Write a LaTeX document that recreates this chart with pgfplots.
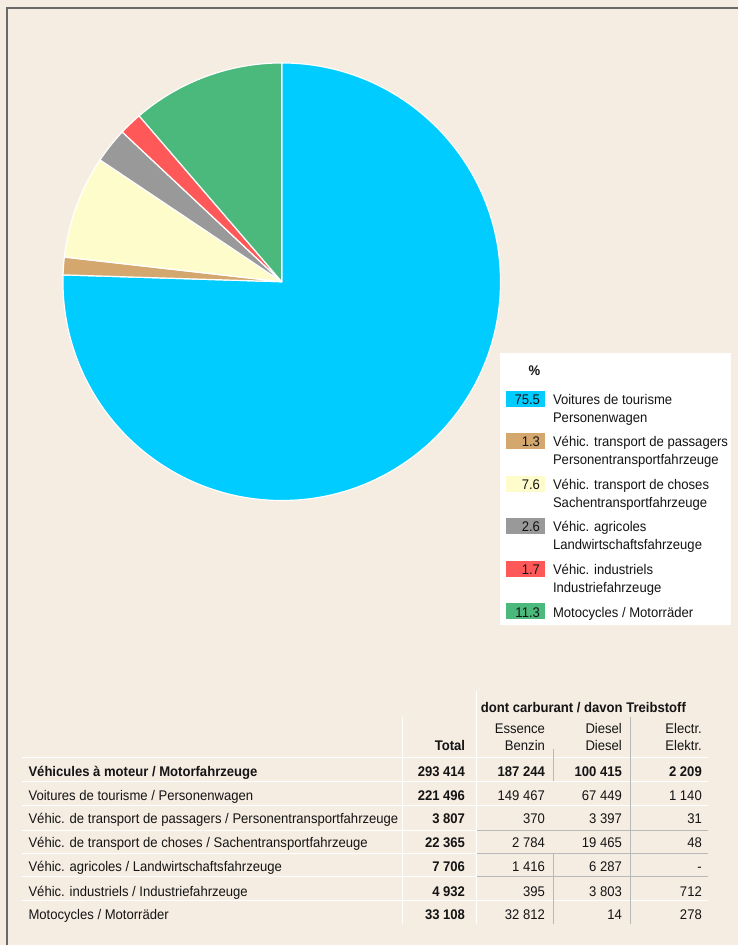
\documentclass[border=0pt]{standalone}
\usepackage{fontspec}
\setmainfont{Liberation Sans}[FakeStretch=0.935]
\usepackage{pgfplots}
\usepackage{pgfplotstable}
\pgfplotsset{compat=1.18}

\definecolor{bgbeige}{RGB}{245,236,226}
\definecolor{framegrey}{RGB}{105,105,105}
\definecolor{txt}{RGB}{20,20,20}
\definecolor{cBlue}{RGB}{0,204,255}
\definecolor{cBrown}{RGB}{212,167,111}
\definecolor{cYellow}{RGB}{255,252,204}
\definecolor{cGrey}{RGB}{153,153,153}
\definecolor{cRed}{RGB}{255,88,88}
\definecolor{cGreen}{RGB}{75,185,124}
\definecolor{gridgrey}{RGB}{185,185,185}

% shares in %, clockwise from 12 o'clock
\pgfplotstableread{
pct  col
75.5 cBlue
1.3  cBrown
7.6  cYellow
2.6  cGrey
1.7  cRed
11.3 cGreen
}\piedata

% table row: y, label, total, essence, diesel, electr
\newcommand\trow[6]{%
  \node[anchor=mid west] at (axis cs:25,#1) {#2};
  \node[anchor=mid east] at (axis cs:469,#1) {#3};
  \node[anchor=mid east] at (axis cs:549,#1) {#4};
  \node[anchor=mid east] at (axis cs:626,#1) {#5};
  \node[anchor=mid east] at (axis cs:706,#1) {#6};
}
% legend entry: y, colour, value, line 1, line 2
\newcommand\lentry[5]{%
  \fill[#2] (axis cs:506,#1-8) rectangle (axis cs:546,#1+8);
  \node[anchor=mid east] at (axis cs:544,#1) {#3};
  \node[anchor=mid west] at (axis cs:550,#1) {#4};
  \node[anchor=mid west] at (axis cs:550,#1+18) {#5};
}

\begin{document}
\begin{tikzpicture}[font=\fontsize{14}{16}\selectfont, text=txt,
    every node/.append style={yshift=-3pt}]
\def\acc{90}
\pgfplotsforeachungrouped \i in {0,...,5}{%
  \pgfplotstablegetelem{\i}{pct}\of\piedata
  \pgfmathsetmacro\nxt{\acc-3.6*\pgfplotsretval}%
  \expandafter\xdef\csname pieS\i\endcsname{\acc}%
  \expandafter\xdef\csname pieE\i\endcsname{\nxt}%
  \pgfplotstablegetelem{\i}{col}\of\piedata
  \edef\tmp{\noexpand\colorlet{pie\i}{\pgfplotsretval}}\tmp
  \global\let\acc\nxt
}
\begin{axis}[
    x=1pt, y=1pt,
    xmin=0, xmax=739, ymin=0, ymax=946,
    y dir=reverse,
    scale only axis,
    hide axis,
    clip=false,
]
% background and frame
\fill[bgbeige] (axis cs:0,0) rectangle (axis cs:739,946);
\draw[framegrey, line width=1.8pt] (axis cs:7,946) -- (axis cs:7,8) -- (axis cs:739,8);

% pie
\pgfplotsinvokeforeach{0,...,5}{%
  \edef\tmp{\noexpand\fill[pie#1, draw=white, line width=1.2pt, line join=round]
    (axis cs:282,282) -- ++(\csname pieS#1\endcsname:219pt)
    arc[start angle=\csname pieS#1\endcsname, end angle=\csname pieE#1\endcsname, radius=219pt]
    -- cycle;}\tmp
}

% legend
\fill[white] (axis cs:500,353) rectangle (axis cs:732,626);
\node at (axis cs:535,368) {\textbf{\%}};
\lentry{399}{cBlue}{75.5}{Voitures de tourisme}{Personenwagen}
\lentry{441.6}{cBrown}{1.3}{Véhic. transport de passagers}{Personentransportfahrzeuge}
\lentry{484.2}{cYellow}{7.6}{Véhic. transport de choses}{Sachentransportfahrzeuge}
\lentry{526.8}{cGrey}{2.6}{Véhic. agricoles}{Landwirtschaftsfahrzeuge}
\lentry{569.4}{cRed}{1.7}{Véhic. industriels}{Industriefahrzeuge}
\fill[cGreen] (axis cs:506,604) rectangle (axis cs:546,620);
\node[anchor=mid east] at (axis cs:544,612) {11.3};
\node[anchor=mid west] at (axis cs:550,612) {Motocycles / Motorräder};

% table grid
\draw[white, line width=1.2pt] (axis cs:477,692) -- (axis cs:477,925);
\draw[white, line width=1.2pt] (axis cs:403,718) -- (axis cs:403,925);
\pgfplotsinvokeforeach{758,782,806,831,854,877,901}{
  \draw[white, line width=1.2pt] (axis cs:22,#1) -- (axis cs:709,#1);
}
\pgfplotsinvokeforeach{831,854,877}{
  \draw[gridgrey, line width=1.2pt] (axis cs:477,#1) -- (axis cs:709,#1);
}
\draw[gridgrey, line width=1.2pt] (axis cs:631,718) -- (axis cs:631,925);
\draw[gridgrey, line width=1.2pt] (axis cs:554,750) -- (axis cs:554,782);
\draw[gridgrey, line width=1.2pt] (axis cs:554,854) -- (axis cs:554,925);

% table header
\node at (axis cs:584,705) {\textbf{dont carburant / davon Treibstoff}};
\node[anchor=mid east] at (axis cs:549,729) {Essence};
\node[anchor=mid east] at (axis cs:549,746) {Benzin};
\node[anchor=mid east] at (axis cs:626,729) {Diesel};
\node[anchor=mid east] at (axis cs:626,746) {Diesel};
\node[anchor=mid east] at (axis cs:706,729) {Electr.};
\node[anchor=mid east] at (axis cs:706,746) {Elektr.};
\node[anchor=mid east] at (axis cs:469,746) {\textbf{Total}};

% table body
\trow{772}{\textbf{Véhicules à moteur / Motorfahrzeuge}}{\textbf{293 414}}{\textbf{187 244}}{\textbf{100 415}}{\textbf{2 209}}
\trow{796}{Voitures de tourisme / Personenwagen}{\textbf{221 496}}{149 467}{67 449}{1 140}
\trow{819}{Véhic. de transport de passagers / Personentransportfahrzeuge}{\textbf{3 807}}{370}{3 397}{31}
\trow{843}{Véhic. de transport de choses / Sachentransportfahrzeuge}{\textbf{22 365}}{2 784}{19 465}{48}
\trow{867}{Véhic. agricoles / Landwirtschaftsfahrzeuge}{\textbf{7 706}}{1 416}{6 287}{-}
\trow{892}{Véhic. industriels / Industriefahrzeuge}{\textbf{4 932}}{395}{3 803}{712}
\trow{915}{Motocycles / Motorräder}{\textbf{33 108}}{32 812}{14}{278}
\end{axis}
\end{tikzpicture}
\end{document}
